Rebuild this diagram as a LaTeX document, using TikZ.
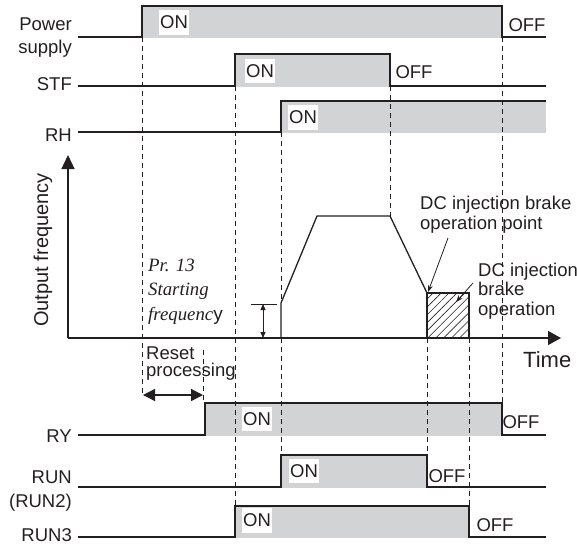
\documentclass[tikz,border=0pt]{standalone}
\usepackage{fontspec}
\setmainfont{Liberation Sans}
\newfontfamily\serifit{Liberation Serif}
\newfontfamily\sansup{Liberation Sans}
\usetikzlibrary{arrows.meta,patterns.meta}
\definecolor{sig}{HTML}{231F20}
\definecolor{fillg}{HTML}{D1D3D4}
\begin{document}
\begin{tikzpicture}[x=1pt,y=-1pt,
  sigline/.style={draw=sig,line width=1.3pt,line join=miter},
  hiarea/.style={fill=fillg,draw=none},
  guide/.style={draw=sig,line width=0.8pt,dash pattern=on 5pt off 4pt},
  thinline/.style={draw=sig,line width=0.8pt},
  lbl/.style={font=\fontsize{18.5}{22}\selectfont,text=sig,inner sep=0pt},
  onlbl/.style={lbl,fill=white,inner xsep=1.3pt,inner ysep=5.5pt},
  itlbl/.style={font=\fontsize{18.8}{22}\selectfont\serifit\itshape,text=sig,inner sep=0pt}]
\useasboundingbox (0,0) rectangle (577,544);
\clip (0,0) rectangle (577,544);

% gray high areas
\fill[hiarea] (142,6) rectangle (502,37.5);
\fill[hiarea] (235,54) rectangle (390,86.5);
\fill[hiarea] (281,101) rectangle (546,132.5);
\fill[hiarea] (205,403) rectangle (502,435.5);
\fill[hiarea] (281,455) rectangle (427,487.5);
\fill[hiarea] (235,506) rectangle (469,537.5);

% dashed guides
\draw[guide] (142,37) -- (142,395);
\draw[guide] (235,86) -- (235,506);
\draw[guide] (281,132) -- (281,303);
\draw[guide] (281,338) -- (281,455);
\draw[guide] (390,86) -- (390,216);
\draw[guide] (502,37) -- (502,403);
\draw[guide] (203,350) -- (203,403);
\draw[guide] (427,338) -- (427,455);
\draw[guide] (469,338) -- (469,506);

% signals
\draw[sigline] (78,37) -- (142,37) -- (142,6) -- (502,6) -- (502,37) -- (546,37);
\draw[sigline] (78,86) -- (235,86) -- (235,54) -- (390,54) -- (390,86) -- (546,86);
\draw[sigline] (78,132) -- (281,132) -- (281,101) -- (546,101);
\draw[sigline] (78,435) -- (205,435) -- (205,403) -- (502,403) -- (502,435) -- (546,435);
\draw[sigline] (78,487) -- (281,487) -- (281,455) -- (427,455) -- (427,487) -- (546,487);
\draw[sigline] (78,537) -- (235,537) -- (235,506) -- (469,506) -- (469,537) -- (546,537);

% signal names
\node[lbl,anchor=base east] (npow) at (72,30) {Power};
\node[lbl,anchor=base east] (nsup) at (72,53) {supply};
\node[lbl,anchor=base east] (nstf) at (72,90) {STF};
\node[lbl,anchor=base east] (nrh) at (72,141) {RH};
\node[lbl,anchor=base east] (nry) at (72,442) {RY};
\node[lbl,anchor=base east] (nrun) at (72,483) {RUN};
\node[lbl,anchor=base east] (nrun2) at (72,507) {(RUN2)};
\node[lbl,anchor=base east] (nrun3) at (72,541) {RUN3};

% ON / OFF labels
\node[onlbl] (onpow) at (174,22.5) {ON};
\node[onlbl] (onstf) at (260,71) {ON};
\node[onlbl] (onrh) at (303,117.5) {ON};
\node[onlbl] (onry) at (257,419) {ON};
\node[onlbl] (onrun) at (304,471) {ON};
\node[onlbl] (onrun3) at (257,520.5) {ON};
\node[lbl] (offpow) at (527,25) {OFF};
\node[lbl] (offstf) at (414,72.5) {OFF};
\node[lbl] (offry) at (521,422) {OFF};
\node[lbl] (offrun) at (447,476) {OFF};
\node[lbl] (offrun3) at (495,525) {OFF};

% axes
\coordinate (org) at (68,338);
\coordinate (ytop) at (68,155);
\coordinate (xend) at (561,338);
\draw[sigline,-{Triangle[length=14pt,width=13pt]}] (org) -- (ytop);
\draw[sigline,-{Triangle[length=13pt,width=14pt]}] (org) -- (xend);
\node[font=\fontsize{20}{24}\selectfont,text=sig,inner sep=0pt,rotate=90,anchor=base] (nof) at (48,250) {Output frequency};
\node[font=\fontsize{22}{26}\selectfont,text=sig,inner sep=0pt,anchor=base west] (ntime) at (523,367) {Time};

% frequency profile
\fill[pattern={Lines[angle=45,distance=5.6pt,line width=0.6pt]},pattern color=sig] (427,293) rectangle (469,338);
\draw[sigline] (427,293) rectangle (469,338);
\draw[sigline] (281,338) -- (281,303) -- (317,216) -- (390,216) -- (427,293);

% starting frequency marker
\coordinate (sfa) at (263,304);
\coordinate (sfb) at (263,338);
\draw[thinline] (251,304) -- (277,304);
\draw[thinline,{Triangle[length=6pt,width=5pt]}-{Triangle[length=6pt,width=5pt]}] (sfa) -- (sfb);
\node[itlbl,anchor=base west] (npr) at (148,271.5) {Pr. 13};
\node[itlbl,anchor=base west] (nstart) at (148,295.5) {Starting};
\node[itlbl,anchor=base west] (nfreq) at (148,320) {frequenc{\sansup\upshape\fontsize{19}{22}\selectfont y}};

% reset processing
\node[lbl,anchor=base west] (nreset) at (146,359) {Reset};
\node[lbl,anchor=base west] (nproc) at (146,376) {processing};
\coordinate (rsa) at (143,395);
\coordinate (rsb) at (203,395);
\draw[sigline,{Triangle[length=12pt,width=12pt]}-{Triangle[length=12pt,width=12pt]}] (rsa) -- (rsb);

% DC injection brake labels
\node[lbl,anchor=base west] (ndc1) at (420,209) {DC injection brake};
\node[lbl,anchor=base west] (ndc2) at (420,229) {operation point};
\node[lbl,anchor=base west] (ndc3) at (478,276) {DC injection};
\node[lbl,anchor=base west] (ndc4) at (478,295.5) {brake};
\node[lbl,anchor=base west] (ndc5) at (478,315) {operation};
\coordinate (dcp1) at (448,238);
\coordinate (dcp2) at (428,292);
\coordinate (dcb1) at (473,283);
\coordinate (dcb2) at (456,302);
\draw[thinline,-{Stealth[length=7pt,width=5pt]}] (dcp1) -- (dcp2);
\draw[thinline,-{Stealth[length=7pt,width=5pt]}] (dcb1) -- (dcb2);
\end{tikzpicture}
\end{document}
